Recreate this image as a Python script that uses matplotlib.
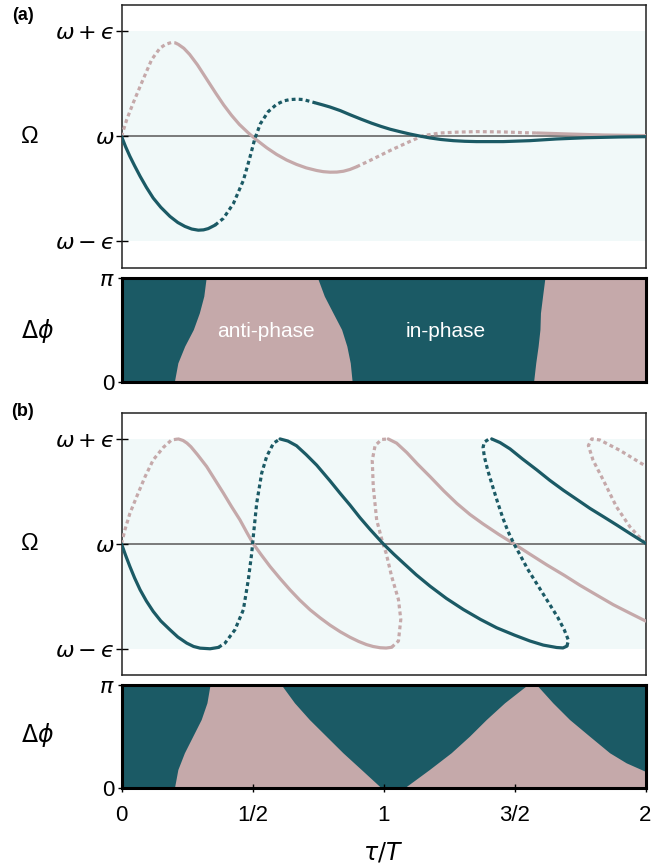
import numpy as np
import matplotlib.pyplot as plt

plt.rcParams['font.family'] = ['Liberation Sans', 'DejaVu Sans']
plt.rcParams['mathtext.fontset'] = 'dejavusans'

TEAL = '#1b5a65'
PINK = '#c5a9aa'
BAND = '#f1f9f9'

# ---------------- data ----------------
# Omega(tau) curves, in units of epsilon around omega.
# each curve is a list of segments; *_dotted says which segments are dashed

teal_a = [
    [(0.000, 0.000), (0.015, -0.095), (0.032, -0.190), (0.050, -0.280), (0.071, -0.380),
     (0.095, -0.485), (0.121, -0.587), (0.150, -0.675), (0.185, -0.762), (0.215, -0.820),
     (0.242, -0.857), (0.268, -0.882), (0.293, -0.893), (0.313, -0.890), (0.331, -0.878),
     (0.357, -0.845)],
    [(0.357, -0.845), (0.389, -0.780), (0.427, -0.640), (0.465, -0.420), (0.488, -0.220),
     (0.508, -0.030), (0.530, 0.120), (0.560, 0.235), (0.592, 0.305), (0.620, 0.338),
     (0.643, 0.350), (0.670, 0.354), (0.694, 0.350), (0.738, 0.320)],
    [(0.738, 0.320), (0.767, 0.300), (0.796, 0.279), (0.835, 0.245), (0.872, 0.206),
     (0.915, 0.163), (0.955, 0.125), (0.990, 0.095), (1.025, 0.068), (1.065, 0.043),
     (1.101, 0.022), (1.140, 0.002), (1.177, -0.015), (1.220, -0.030), (1.266, -0.041),
     (1.310, -0.047), (1.355, -0.050), (1.457, -0.050), (1.559, -0.041), (1.660, -0.025),
     (1.775, -0.013), (1.900, -0.006), (2.000, -0.003)],
]
teal_a_dotted = [False, True, False]

pink_a = [
    [(0.000, 0.000), (0.020, 0.160), (0.045, 0.320), (0.077, 0.510), (0.115, 0.730),
     (0.147, 0.840), (0.168, 0.875), (0.190, 0.893), (0.205, 0.890), (0.217, 0.875)],
    [(0.217, 0.875), (0.238, 0.838), (0.260, 0.780), (0.290, 0.680), (0.325, 0.545),
     (0.360, 0.410), (0.390, 0.299), (0.420, 0.200), (0.450, 0.113), (0.483, 0.035),
     (0.516, -0.035), (0.555, -0.110), (0.592, -0.172), (0.630, -0.225), (0.668, -0.267),
     (0.705, -0.300), (0.745, -0.325), (0.770, -0.336), (0.796, -0.341), (0.822, -0.340),
     (0.847, -0.332), (0.872, -0.315), (0.897, -0.290)],
    [(0.897, -0.290), (0.948, -0.230), (1.025, -0.135), (1.101, -0.048), (1.152, 0.007),
     (1.216, 0.032), (1.280, 0.040), (1.355, 0.045), (1.457, 0.042), (1.534, 0.035),
     (1.585, 0.032)],
    [(1.585, 0.032), (1.712, 0.022), (1.839, 0.013), (2.000, 0.007)],
]
pink_a_dotted = [True, False, True, False]

teal_b = [
    [(0.000, 0.000), (0.015, -0.105), (0.032, -0.216), (0.050, -0.325), (0.071, -0.438),
     (0.095, -0.545), (0.121, -0.644), (0.150, -0.735), (0.185, -0.819), (0.215, -0.888),
     (0.249, -0.946), (0.275, -0.978), (0.300, -0.994), (0.338, -1.000), (0.370, -0.987)],
    [(0.370, -0.987), (0.395, -0.946), (0.433, -0.819), (0.465, -0.629), (0.484, -0.343),
     (0.497, -0.089), (0.503, 0.070), (0.516, 0.387), (0.535, 0.673), (0.554, 0.832),
     (0.580, 0.959), (0.605, 1.000)],
    [(0.605, 1.000), (0.635, 0.980), (0.668, 0.935), (0.705, 0.850), (0.745, 0.750),
     (0.796, 0.600), (0.835, 0.480), (0.872, 0.370), (0.910, 0.250), (0.948, 0.140),
     (0.999, 0.000), (1.040, -0.100), (1.076, -0.183), (1.125, -0.295), (1.178, -0.404),
     (1.240, -0.520), (1.305, -0.626), (1.370, -0.720), (1.432, -0.800), (1.500, -0.870),
     (1.559, -0.926), (1.610, -0.965), (1.661, -0.988), (1.685, -0.992), (1.700, -0.975)],
    [(1.700, -0.975), (1.706, -0.920), (1.690, -0.820), (1.665, -0.700), (1.630, -0.560),
     (1.590, -0.400), (1.550, -0.240), (1.520, -0.100), (1.498, 0.000), (1.475, 0.120),
     (1.455, 0.250), (1.435, 0.400), (1.415, 0.560), (1.398, 0.700), (1.385, 0.830),
     (1.380, 0.920), (1.385, 0.970), (1.400, 0.995), (1.413, 1.000)],
    [(1.413, 1.000), (1.445, 0.965), (1.483, 0.905), (1.530, 0.810), (1.585, 0.705),
     (1.635, 0.605), (1.687, 0.510), (1.740, 0.420), (1.788, 0.338), (1.840, 0.258),
     (1.890, 0.180), (1.945, 0.092), (2.000, 0.006)],
]
teal_b_dotted = [False, True, False, True, False]

pink_b = [
    [(0.000, 0.000), (0.013, 0.133), (0.032, 0.290), (0.058, 0.450), (0.090, 0.640),
     (0.121, 0.800), (0.160, 0.920), (0.191, 0.990), (0.217, 1.000)],
    [(0.217, 1.000), (0.235, 0.985), (0.250, 0.960), (0.265, 0.925), (0.290, 0.850),
     (0.325, 0.737), (0.357, 0.610), (0.389, 0.483), (0.420, 0.355), (0.452, 0.229),
     (0.478, 0.110), (0.503, 0.000), (0.535, -0.110), (0.567, -0.216), (0.605, -0.330),
     (0.643, -0.438), (0.680, -0.535), (0.720, -0.629), (0.758, -0.705), (0.796, -0.775),
     (0.835, -0.838), (0.872, -0.890), (0.905, -0.930), (0.935, -0.960), (0.960, -0.978),
     (0.987, -0.990), (1.010, -0.993), (1.031, -0.986)],
    [(1.031, -0.986), (1.057, -0.926), (1.066, -0.720), (1.057, -0.530), (1.031, -0.310),
     (1.010, -0.088), (0.998, 0.000), (0.974, 0.227), (0.961, 0.543), (0.957, 0.796),
     (0.968, 0.937), (0.993, 0.995), (1.018, 1.000)],
    [(1.018, 1.000), (1.050, 0.960), (1.089, 0.870), (1.130, 0.760), (1.178, 0.640),
     (1.230, 0.505), (1.280, 0.385), (1.330, 0.280), (1.380, 0.190), (1.440, 0.090),
     (1.498, 0.000), (1.560, -0.100), (1.623, -0.200), (1.690, -0.300), (1.750, -0.395),
     (1.815, -0.490), (1.877, -0.580), (1.940, -0.660), (2.000, -0.735)],
    [(1.998, 0.006), (1.940, 0.164), (1.889, 0.354), (1.839, 0.607), (1.800, 0.796),
     (1.782, 0.937), (1.795, 1.000), (1.826, 0.990), (1.903, 0.890), (1.985, 0.765),
     (2.000, 0.745)],
]
pink_b_dotted = [True, False, True, False, True]

# phase maps: boundaries of the anti-phase (pink) regions, at levels dphi/pi
phase_levels = [0.0, 0.177, 0.339, 0.5, 0.661, 0.823, 1.0]
a_left1 = [0.204, 0.217, 0.243, 0.276, 0.299, 0.316, 0.325]
a_right1 = [0.882, 0.875, 0.862, 0.842, 0.809, 0.776, 0.750]
a_left2 = [1.575, 1.583, 1.592, 1.599, 1.601, 1.609, 1.618]

b_left1 = [0.204, 0.217, 0.242, 0.274, 0.306, 0.328, 0.340]
b_right1 = [0.993, 0.917, 0.847, 0.783, 0.719, 0.662, 0.611]
b_left2 = [1.082, 1.177, 1.260, 1.330, 1.394, 1.464, 1.553]
b_right2_levels = [1.0, 0.823, 0.661, 0.5, 0.339, 0.242, 0.161]
b_right2 = [1.585, 1.648, 1.712, 1.788, 1.865, 1.928, 2.000]

xtick_pos = [0, 0.5, 1, 1.5, 2]
xtick_lab = ['0', '1/2', '1', '3/2', '2']

# ---------------- figure ----------------
fig = plt.figure(figsize=(6.69, 8.67), dpi=100)
H = 867.0
L, W = 121.5 / 669, 524 / 669


def ax_at(top, bot):
    return fig.add_axes([L, 1 - bot / H, W, (bot - top) / H])


def draw(ax, segs, dotted, color):
    for pts, d in zip(segs, dotted):
        x, y = np.array(pts).T
        ax.plot(x, y, color=color, lw=2.3, zorder=3,
                ls=(0, (1.2, 1.0)) if d else '-',
                solid_capstyle='round', solid_joinstyle='round',
                dash_capstyle='butt')


def curve_panel(ax, teal, teal_d, pink, pink_d):
    ax.axhspan(-1, 1, color=BAND, zorder=0, lw=0)
    ax.axhline(0, color='#707070', lw=1.3, zorder=1)
    draw(ax, pink, pink_d, PINK)
    draw(ax, teal, teal_d, TEAL)
    ax.set_xlim(0, 2)
    ax.set_ylim(-1.25, 1.25)
    ax.set_xticks([])
    ax.set_yticks([-1, 0, 1])
    ax.set_yticklabels([r'$\omega - ϵ$', r'$\omega$', r'$\omega + ϵ$'])
    ax.tick_params(axis='y', direction='inout', length=8, width=1, pad=1, labelsize=16)
    for s in ax.spines.values():
        s.set_linewidth(1.1)
        s.set_color('#222222')


def phase_panel(ax, polys):
    ax.set_facecolor(TEAL)
    for px, py in polys:
        ax.fill(px, np.array(py) * np.pi, color=PINK, lw=0)
    ax.set_xlim(0, 2)
    ax.set_ylim(0, np.pi)
    ax.set_xticks([])
    ax.set_yticks([0, np.pi])
    ax.set_yticklabels(['0', r'$\pi$'])
    ax.tick_params(axis='both', direction='inout', length=6, width=1, pad=2, labelsize=16)
    for s in ax.spines.values():
        s.set_linewidth(2.2)
        s.set_color('black')
        s.set_zorder(5)


axA = ax_at(5, 267.7)
axPA = ax_at(278.3, 381.7)
axB = ax_at(412.7, 675)
axPB = ax_at(685, 788.3)

curve_panel(axA, teal_a, teal_a_dotted, pink_a, pink_a_dotted)
curve_panel(axB, teal_b, teal_b_dotted, pink_b, pink_b_dotted)

lv = phase_levels
phase_panel(axPA, [
    (a_left1 + a_right1[::-1], lv + lv[::-1]),
    (a_left2 + [2.0, 2.0], lv + [1.0, 0.0]),
])
phase_panel(axPB, [
    (b_left1 + b_right1[::-1], lv + lv[::-1]),
    (b_left2 + b_right2 + [2.0], lv + b_right2_levels + [0.0]),
])
axPA.text(0.553, 0.484 * np.pi, 'anti-phase', color='white', fontsize=15,
          ha='center', va='center')
axPA.text(1.237, 0.484 * np.pi, 'in-phase', color='white', fontsize=15,
          ha='center', va='center')

axPB.set_xticks(xtick_pos)
axPB.set_xticklabels(xtick_lab)
axPB.tick_params(axis='x', pad=9)


def ftext(x, y, s, **kw):
    fig.text(x / 669, 1 - y / H, s, ha='center', va='center', **kw)


ftext(23, 15, '(a)', fontsize=13, fontweight='bold')
ftext(23, 412, '(b)', fontsize=13, fontweight='bold')
ftext(30, 137, 'Ω', fontsize=17)
ftext(30, 544, 'Ω', fontsize=17)
ftext(37, 331, r'$\Delta\phi$', fontsize=17)
ftext(37, 735, r'$\Delta\phi$', fontsize=17)
ftext(383, 852, r'$\tau/T$', fontsize=17)

fig.savefig('out.png', dpi=100)
